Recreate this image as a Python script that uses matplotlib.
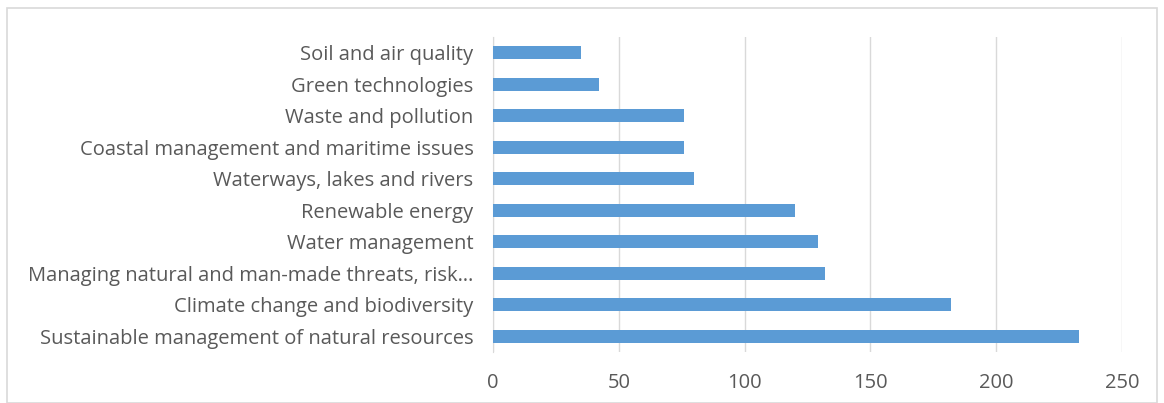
import matplotlib.pyplot as plt
from matplotlib.patches import Rectangle

temas = [
    "Sustainable management of natural resources",
    "Climate change and biodiversity",
    "Managing natural and man-made threats, risk…",
    "Water management",
    "Renewable energy",
    "Waterways, lakes and rivers",
    "Coastal management and maritime issues",
    "Waste and pollution",
    "Green technologies",
    "Soil and air quality",
]
valores = [233, 182, 132, 129, 120, 80, 76, 76, 42, 35]
ticks_x = [0, 50, 100, 150, 200, 250]

plt.rcParams['font.family'] = ['Open Sans', 'DejaVu Sans']

fig = plt.figure(figsize=(11.64, 4.03), dpi=100)
ax = fig.add_axes([493/1164, 1 - 352/403, (1122 - 493)/1164, (352 - 37)/403])

# borde exterior del grafico
fig.patches.append(Rectangle((7/1164, 0), 1150/1164, 1 - 8/403, transform=fig.transFigure,
                             fill=False, edgecolor='#D9D9D9', linewidth=1.2))

pos = list(range(len(temas)))
ax.barh(pos, valores, height=0.4, color='#5B9BD5', zorder=3)

ax.set_xlim(0, 250)
ax.set_ylim(-0.5, len(temas) - 0.5)
ax.set_xticks(ticks_x)
ax.set_xticklabels([str(t) for t in ticks_x])
ax.set_yticks(pos)
ax.set_yticklabels(temas)

ax.grid(axis='x', color='#D9D9D9', linewidth=1, zorder=0)
for s in ['top', 'right', 'bottom']:
    ax.spines[s].set_visible(False)
ax.spines['left'].set_color('#D9D9D9')
ax.tick_params(axis='both', length=0, labelsize=14.5, colors='#595959')
ax.tick_params(axis='y', pad=14)
ax.tick_params(axis='x', pad=15)

fig.savefig('out.png', dpi=100)
